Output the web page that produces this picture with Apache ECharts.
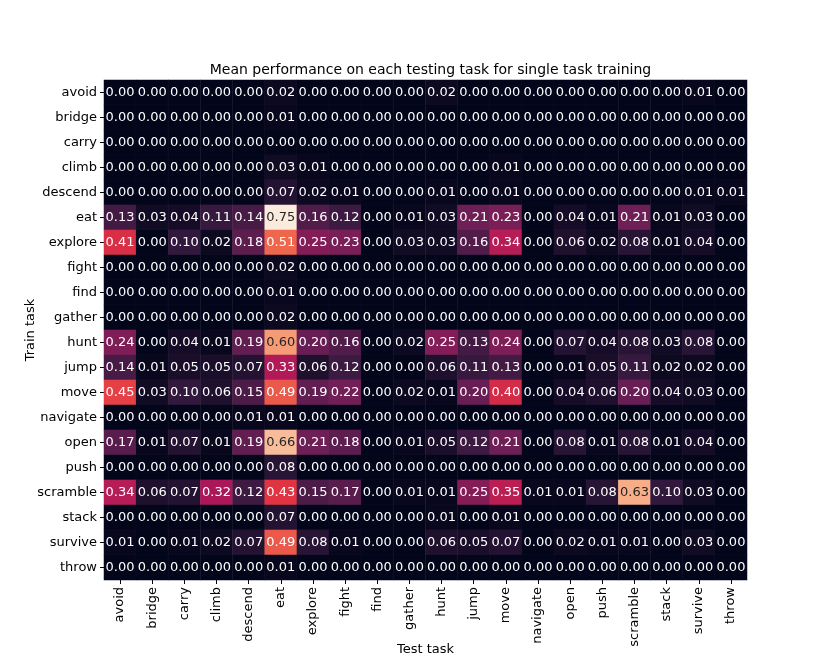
<!DOCTYPE html>
<html>
<head>
<meta charset="utf-8">
<script src="https://cdn.jsdelivr.net/npm/echarts@6/dist/echarts.min.js"></script>
<style>html,body{margin:0;padding:0;background:#fff}#c{width:830px;height:664px}</style>
</head>
<body>
<div id="c"></div>
<script>
const testTasks = ["avoid","bridge","carry","climb","descend","eat","explore","fight","find","gather","hunt","jump","move","navigate","open","push","scramble","stack","survive","throw"];
const trainTasks = ["avoid","bridge","carry","climb","descend","eat","explore","fight","find","gather","hunt","jump","move","navigate","open","push","scramble","stack","survive","throw"];

const rowAvoid    = [0.00,0.00,0.00,0.00,0.00,0.02,0.00,0.00,0.00,0.00,0.02,0.00,0.00,0.00,0.00,0.00,0.00,0.00,0.01,0.00];
const rowBridge   = [0.00,0.00,0.00,0.00,0.00,0.01,0.00,0.00,0.00,0.00,0.00,0.00,0.00,0.00,0.00,0.00,0.00,0.00,0.00,0.00];
const rowCarry    = [0.00,0.00,0.00,0.00,0.00,0.00,0.00,0.00,0.00,0.00,0.00,0.00,0.00,0.00,0.00,0.00,0.00,0.00,0.00,0.00];
const rowClimb    = [0.00,0.00,0.00,0.00,0.00,0.03,0.01,0.00,0.00,0.00,0.00,0.00,0.01,0.00,0.00,0.00,0.00,0.00,0.00,0.00];
const rowDescend  = [0.00,0.00,0.00,0.00,0.00,0.07,0.02,0.01,0.00,0.00,0.01,0.00,0.01,0.00,0.00,0.00,0.00,0.00,0.01,0.01];
const rowEat      = [0.13,0.03,0.04,0.11,0.14,0.75,0.16,0.12,0.00,0.01,0.03,0.21,0.23,0.00,0.04,0.01,0.21,0.01,0.03,0.00];
const rowExplore  = [0.41,0.00,0.10,0.02,0.18,0.51,0.25,0.23,0.00,0.03,0.03,0.16,0.34,0.00,0.06,0.02,0.08,0.01,0.04,0.00];
const rowFight    = [0.00,0.00,0.00,0.00,0.00,0.02,0.00,0.00,0.00,0.00,0.00,0.00,0.00,0.00,0.00,0.00,0.00,0.00,0.00,0.00];
const rowFind     = [0.00,0.00,0.00,0.00,0.00,0.01,0.00,0.00,0.00,0.00,0.00,0.00,0.00,0.00,0.00,0.00,0.00,0.00,0.00,0.00];
const rowGather   = [0.00,0.00,0.00,0.00,0.00,0.02,0.00,0.00,0.00,0.00,0.00,0.00,0.00,0.00,0.00,0.00,0.00,0.00,0.00,0.00];
const rowHunt     = [0.24,0.00,0.04,0.01,0.19,0.60,0.20,0.16,0.00,0.02,0.25,0.13,0.24,0.00,0.07,0.04,0.08,0.03,0.08,0.00];
const rowJump     = [0.14,0.01,0.05,0.05,0.07,0.33,0.06,0.12,0.00,0.00,0.06,0.11,0.13,0.00,0.01,0.05,0.11,0.02,0.02,0.00];
const rowMove     = [0.45,0.03,0.10,0.06,0.15,0.49,0.19,0.22,0.00,0.02,0.01,0.20,0.40,0.00,0.04,0.06,0.20,0.04,0.03,0.00];
const rowNavigate = [0.00,0.00,0.00,0.00,0.01,0.01,0.00,0.00,0.00,0.00,0.00,0.00,0.00,0.00,0.00,0.00,0.00,0.00,0.00,0.00];
const rowOpen     = [0.17,0.01,0.07,0.01,0.19,0.66,0.21,0.18,0.00,0.01,0.05,0.12,0.21,0.00,0.08,0.01,0.08,0.01,0.04,0.00];
const rowPush     = [0.00,0.00,0.00,0.00,0.00,0.08,0.00,0.00,0.00,0.00,0.00,0.00,0.00,0.00,0.00,0.00,0.00,0.00,0.00,0.00];
const rowScramble = [0.34,0.06,0.07,0.32,0.12,0.43,0.15,0.17,0.00,0.01,0.01,0.25,0.35,0.01,0.01,0.08,0.63,0.10,0.03,0.00];
const rowStack    = [0.00,0.00,0.00,0.00,0.00,0.07,0.00,0.00,0.00,0.00,0.01,0.00,0.01,0.00,0.00,0.00,0.00,0.00,0.00,0.00];
const rowSurvive  = [0.01,0.00,0.01,0.02,0.07,0.49,0.08,0.01,0.00,0.00,0.06,0.05,0.07,0.00,0.02,0.01,0.01,0.00,0.03,0.00];
const rowThrow    = [0.00,0.00,0.00,0.00,0.00,0.01,0.00,0.00,0.00,0.00,0.00,0.00,0.00,0.00,0.00,0.00,0.00,0.00,0.00,0.00];

const rows = [rowAvoid,rowBridge,rowCarry,rowClimb,rowDescend,rowEat,rowExplore,rowFight,rowFind,rowGather,rowHunt,rowJump,rowMove,rowNavigate,rowOpen,rowPush,rowScramble,rowStack,rowSurvive,rowThrow];

const data = [];
rows.forEach((r, yi) => r.forEach((v, xi) => {
  data.push({value: [xi, yi, v], label: {color: v >= 0.55 ? '#262626' : '#ffffff'}});
}));

const chart = echarts.init(document.getElementById('c'), null, {renderer: 'canvas'});
const font = 'DejaVu Sans';
chart.setOption({
  animation: false,
  backgroundColor: '#ffffff',
  title: {
    text: 'Mean performance on each testing task for single task training',
    left: 425.5, top: 58, textAlign: 'center',
    textStyle: {fontFamily: font, fontSize: 14, fontWeight: 'normal', color: '#000'}
  },
  grid: {left: 104, top: 80, width: 643, height: 500, containLabel: false, outerBoundsMode: 'none'},
  xAxis: {
    type: 'category', data: testTasks, position: 'bottom',
    name: 'Test task', nameLocation: 'middle', nameGap: 63, nameMoveOverlap: false,
    nameTextStyle: {fontFamily: font, fontSize: 13, color: '#000'},
    axisLine: {show: false},
    axisTick: {show: true, alignWithLabel: true, length: 4, lineStyle: {color: '#000'}},
    axisLabel: {rotate: 90, interval: 0, margin: 7, fontFamily: font, fontSize: 13, color: '#000'},
    splitArea: {show: false}, splitLine: {show: false}
  },
  yAxis: {
    type: 'category', data: trainTasks, inverse: true,
    name: 'Train task', nameLocation: 'middle', nameGap: 67, nameRotate: 90, nameMoveOverlap: false,
    nameTextStyle: {fontFamily: font, fontSize: 13, color: '#000'},
    axisLine: {show: false},
    axisTick: {show: true, alignWithLabel: true, length: 4, lineStyle: {color: '#000'}},
    axisLabel: {interval: 0, margin: 7, fontFamily: font, fontSize: 13, color: '#000'},
    splitArea: {show: false}, splitLine: {show: false}
  },
  visualMap: {
    show: false, min: 0, max: 0.75, dimension: 2, calculable: false,
    inRange: {color: ['#03051A','#35193E','#701F57','#AD1759','#E13342','#F37651','#F6B48F','#FAEBDD']}
  },
  series: [{
    type: 'heatmap',
    data: data,
    itemStyle: {borderColor: 'rgba(255,255,255,0.05)', borderWidth: 0.6},
    label: {show: true, fontFamily: font, fontSize: 13,
      formatter: p => p.value[2].toFixed(2)},
    emphasis: {disabled: true}
  }]
});
</script>
</body>
</html>
